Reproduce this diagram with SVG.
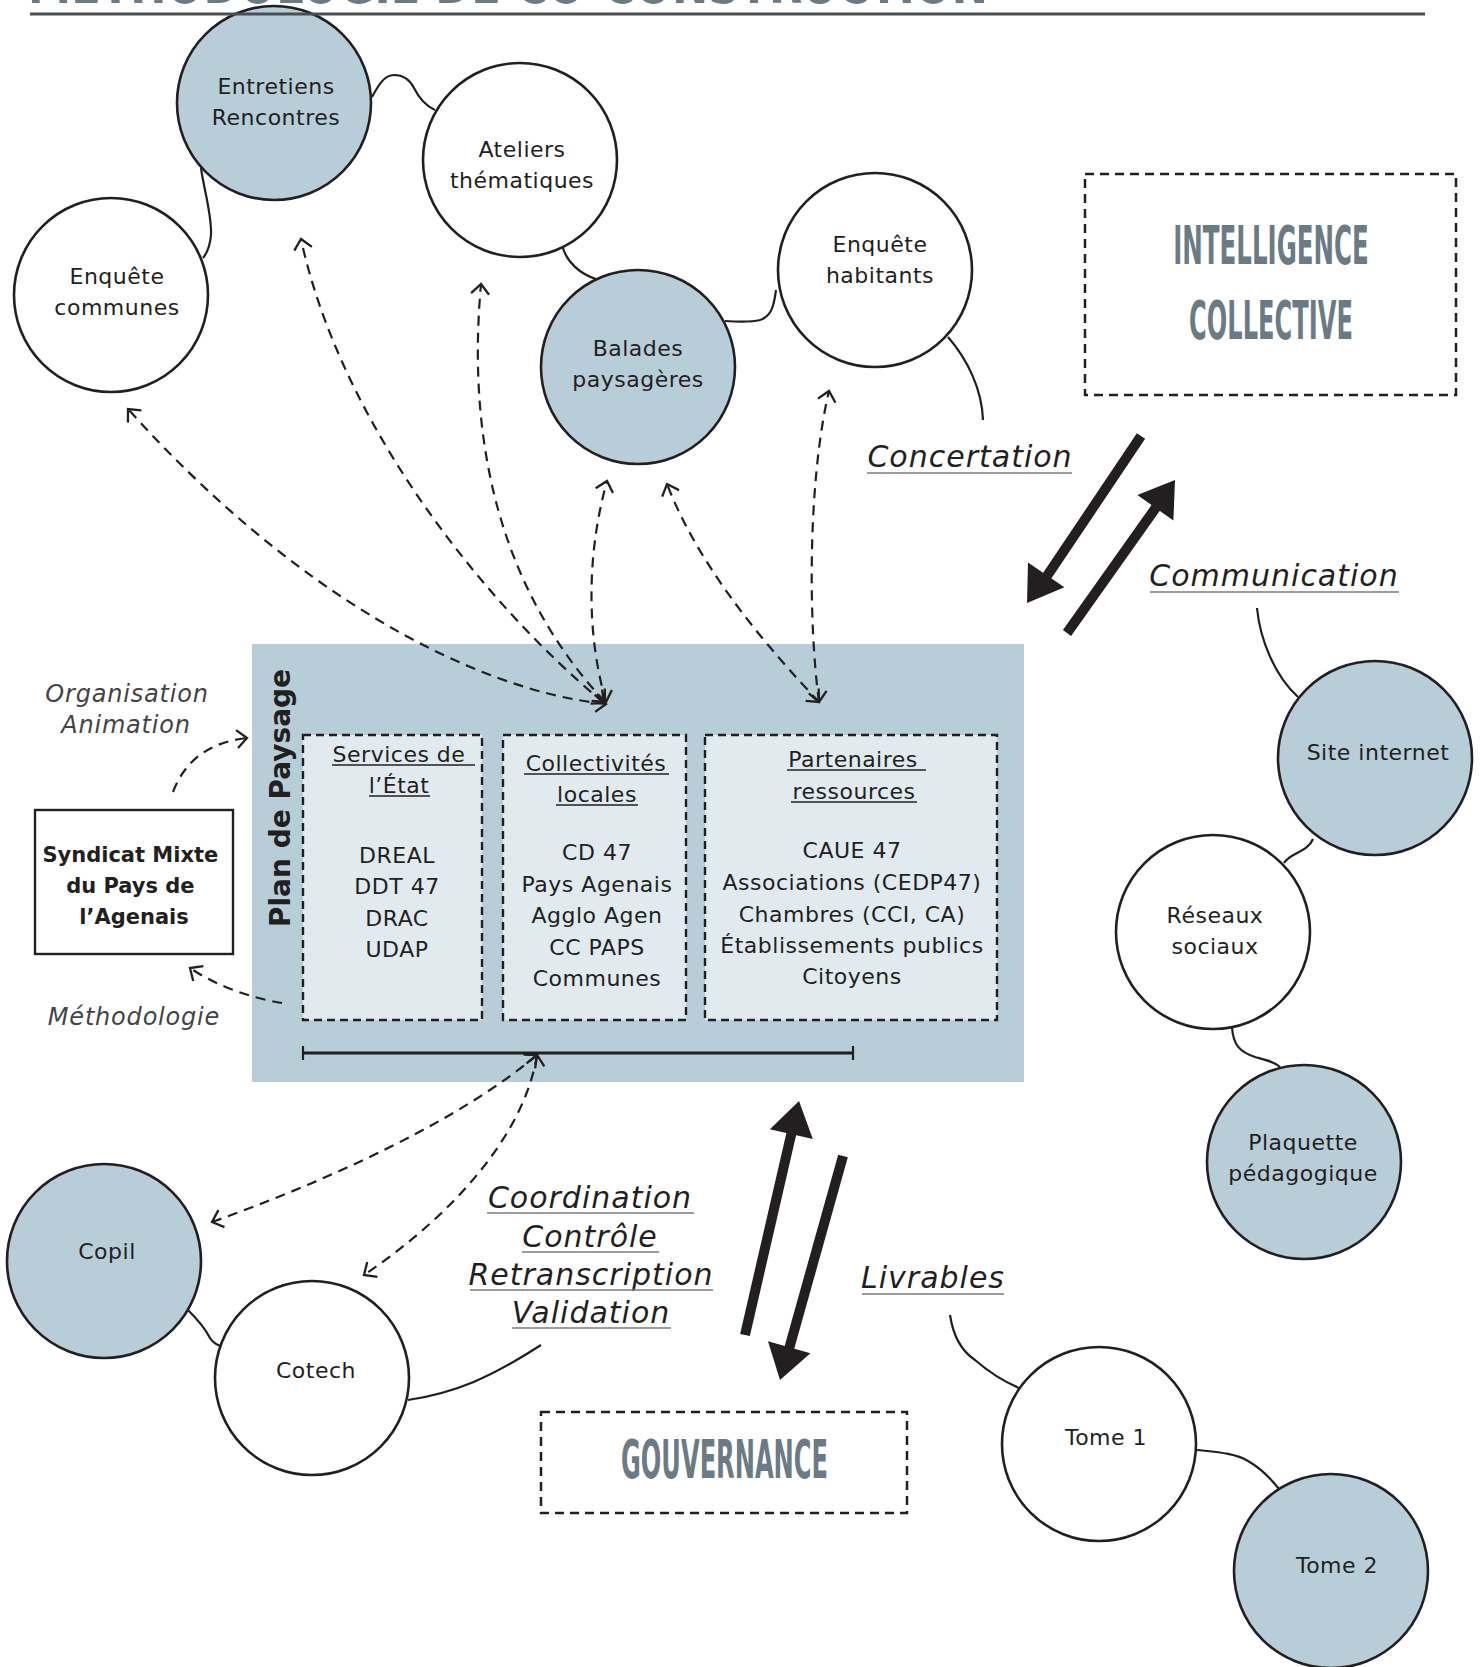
<svg xmlns="http://www.w3.org/2000/svg" width="1482" height="1667" viewBox="0 0 1482 1667">
<defs>
<style>
.c{stroke:#231f20;stroke-width:2.6}
.b{fill:#b7cdd8}
.w{fill:#ffffff}
.t{font-family:"DejaVu Sans","Liberation Sans",sans-serif;font-size:22px;fill:#231f20;text-anchor:middle;letter-spacing:0.5px}
.i{font-family:"DejaVu Sans","Liberation Sans",sans-serif;font-style:italic;font-size:30px;fill:#231f20;text-anchor:middle;letter-spacing:1px}
.g{font-family:"DejaVu Sans","Liberation Sans",sans-serif;font-style:italic;font-size:24px;fill:#444444;text-anchor:middle;letter-spacing:0.8px}
.u{stroke:#7d7d7d;stroke-width:1.6}
.hu{stroke:#231f20;stroke-width:1.3}
.big{font-family:"DejaVu Sans","Liberation Sans",sans-serif;font-weight:bold;font-size:54px;fill:#6b7b85;text-anchor:middle}
.dbox{fill:none;stroke:#231f20;stroke-width:2.5;stroke-dasharray:9 6}
.ibox{fill:#e1eaef;stroke:#231f20;stroke-width:2.4;stroke-dasharray:8 5}
.s{fill:none;stroke:#231f20;stroke-width:2.2}
.d{fill:none;stroke:#231f20;stroke-width:2.2;stroke-dasharray:10 7}
.ah{fill:#231f20}
.al{stroke:#231f20;stroke-width:10;fill:none}
</style>
<marker id="oa" viewBox="0 0 12 20" refX="10" refY="10" markerWidth="12" markerHeight="20" markerUnits="userSpaceOnUse" orient="auto-start-reverse" overflow="visible">
<path d="M0,1 L10,10 L0,19" fill="none" stroke="#231f20" stroke-width="2.3"/>
</marker>
</defs>
<rect x="0" y="0" width="1482" height="1667" fill="#ffffff"/>

<text class="big" transform="translate(508,3) scale(0.45,1)" x="0" y="0" textLength="2133" lengthAdjust="spacingAndGlyphs">MÉTHODOLOGIE DE CO-CONSTRUCTION</text>

<g id="plan-de-paysage">
<rect x="252" y="644" width="772" height="438" fill="#b7cdd8"/>
<text transform="translate(290,798) rotate(-90)" font-family="DejaVu Sans, Liberation Sans, sans-serif" font-weight="bold" font-size="28" fill="#231f20" text-anchor="middle">Plan de Paysage</text>
<line x1="303" y1="1053" x2="853" y2="1053" stroke="#231f20" stroke-width="2.8"/>
<line x1="303" y1="1046" x2="303" y2="1060" stroke="#231f20" stroke-width="2.2"/>
<line x1="853" y1="1046" x2="853" y2="1060" stroke="#231f20" stroke-width="2.2"/>
</g>

<g id="services-etat">
<rect class="ibox" x="303" y="735" width="179" height="285"/>
<text class="t" x="399" y="762">Services de</text>
<line class="hu" x1="332" y1="765" x2="475" y2="765"/>
<text class="t" x="399" y="793">l’État</text>
<line class="hu" x1="369" y1="796" x2="430" y2="796"/>
<text class="t" x="397" y="863">DREAL</text>
<text class="t" x="397" y="894">DDT 47</text>
<text class="t" x="397" y="926">DRAC</text>
<text class="t" x="397" y="957">UDAP</text>
</g>

<g id="collectivites-locales">
<rect class="ibox" x="503" y="735" width="183" height="285"/>
<text class="t" x="596" y="771">Collectivités</text>
<line class="hu" x1="524" y1="774" x2="669" y2="774"/>
<text class="t" x="597" y="802">locales</text>
<line class="hu" x1="556" y1="805" x2="638" y2="805"/>
<text class="t" x="597" y="860">CD 47</text>
<text class="t" x="597" y="892">Pays Agenais</text>
<text class="t" x="597" y="923">Agglo Agen</text>
<text class="t" x="597" y="955">CC PAPS</text>
<text class="t" x="597" y="986">Communes</text>
</g>

<g id="partenaires-ressources">
<rect class="ibox" x="705" y="735" width="292" height="285"/>
<text class="t" x="853" y="767">Partenaires</text>
<line class="hu" x1="787" y1="770" x2="926" y2="770"/>
<text class="t" x="854" y="799">ressources</text>
<line class="hu" x1="791" y1="802" x2="917" y2="802"/>
<text class="t" x="852" y="858">CAUE 47</text>
<text class="t" x="852" y="890">Associations (CEDP47)</text>
<text class="t" x="852" y="922">Chambres (CCI, CA)</text>
<text class="t" x="852" y="953">Établissements publics</text>
<text class="t" x="852" y="984">Citoyens</text>
</g>

<g id="syndicat-mixte">
<rect x="35" y="810" width="198" height="144" fill="#ffffff" stroke="#231f20" stroke-width="2.4"/>
<text font-family="DejaVu Sans, Liberation Sans, sans-serif" font-weight="bold" font-size="21" fill="#231f20" text-anchor="middle">
<tspan x="134" y="862">Syndicat Mixte</tspan>
<tspan x="134" y="893">du Pays de</tspan>
<tspan x="134" y="924">l’Agenais</tspan>
</text>
</g>

<g id="intelligence-collective">
<rect class="dbox" x="1085" y="174" width="371" height="221"/>
<text class="big" transform="translate(1271,264) scale(0.45,1)" x="0" y="0" textLength="435" lengthAdjust="spacingAndGlyphs">INTELLIGENCE</text>
<text class="big" transform="translate(1271,339) scale(0.45,1)" x="0" y="0" textLength="364" lengthAdjust="spacingAndGlyphs">COLLECTIVE</text>
</g>

<g id="gouvernance">
<rect class="dbox" x="541" y="1412" width="366" height="101"/>
<text class="big" transform="translate(724.5,1478) scale(0.45,1)" x="0" y="0" textLength="460" lengthAdjust="spacingAndGlyphs">GOUVERNANCE</text>
</g>

<g id="connectors">
<path class="s" d="M372,97 C378,86 384,75 394,75 C404,75 410,80 414,88 C420,100 426,106 435,110"/>
<path class="s" d="M201,168 C204,190 212,215 211,235 C210,246 207,253 203,258"/>
<path class="s" d="M563,248 C567,262 580,274 596,279"/>
<path class="s" d="M725,321 C740,322 752,322 760,320 C772,316 774,305 776,290"/>
<path class="s" d="M948,337 C968,360 982,390 983,420"/>
<path class="s" d="M1257,608 C1260,640 1275,676 1298,697"/>
<path class="s" d="M1313,839 C1308,852 1290,853 1284,863"/>
<path class="s" d="M1232,1027 C1233,1045 1240,1052 1255,1057 C1266,1060 1275,1062 1280,1067"/>
<path class="s" d="M188,1310 C198,1320 205,1328 210,1338 C213,1343 216,1344 220,1346"/>
<path class="s" d="M408,1400 C455,1393 490,1378 541,1345"/>
<path class="s" d="M950,1315 C953,1335 960,1350 975,1360 C990,1373 1005,1382 1019,1388"/>
<path class="s" d="M1197,1450 C1215,1452 1235,1453 1248,1461 C1262,1469 1272,1480 1279,1489"/>

<path class="d" d="M606,704 C470,690 290,590 128,409" marker-start="url(#oa)" marker-end="url(#oa)"/>
<path class="d" d="M604,703 C480,600 340,420 301,239" marker-start="url(#oa)" marker-end="url(#oa)"/>
<path class="d" d="M605,702 C510,600 465,460 481,284" marker-start="url(#oa)" marker-end="url(#oa)"/>
<path class="d" d="M606,702 C588,640 585,560 607,481" marker-start="url(#oa)" marker-end="url(#oa)"/>
<path class="d" d="M819,702 C770,650 700,570 667,484" marker-start="url(#oa)" marker-end="url(#oa)"/>
<path class="d" d="M819,702 C808,620 808,480 829,391" marker-start="url(#oa)" marker-end="url(#oa)"/>
<path class="d" d="M173,792 C185,760 210,742 247,738" marker-end="url(#oa)"/>
<path class="d" d="M282,1003 C250,998 215,985 190,968" marker-end="url(#oa)"/>
<path class="d" d="M537,1055 C460,1120 330,1180 212,1222" marker-start="url(#oa)" marker-end="url(#oa)"/>
<path class="d" d="M537,1055 C525,1130 460,1210 364,1275" marker-start="url(#oa)" marker-end="url(#oa)"/>

<line class="al" x1="1141" y1="436" x2="1047" y2="576"/>
<polygon class="ah" points="1027,603 1064.4,587.3 1028,562.5"/>
<line class="al" x1="1067" y1="633" x2="1157" y2="506"/>
<polygon class="ah" points="1175,480 1173.4,520.5 1137.4,495.1"/>
<line class="al" x1="745" y1="1335" x2="791.5" y2="1133"/>
<polygon class="ah" points="799,1101 812.8,1139.1 769.9,1129.2"/>
<line class="al" x1="843" y1="1156" x2="789" y2="1349"/>
<polygon class="ah" points="780,1380 810.4,1353.3 768,1341.3"/>
</g>

<g id="entretiens-rencontres">
<circle class="c b" cx="274" cy="103" r="97"/>
<text class="t" x="276" y="94">Entretiens</text>
<text class="t" x="276" y="125">Rencontres</text>
</g>
<g id="ateliers-thematiques">
<circle class="c w" cx="520" cy="160" r="97"/>
<text class="t" x="522" y="157">Ateliers</text>
<text class="t" x="522" y="188">thématiques</text>
</g>
<g id="enquete-communes">
<circle class="c w" cx="111" cy="295" r="97"/>
<text class="t" x="117" y="284">Enquête</text>
<text class="t" x="117" y="315">communes</text>
</g>
<g id="balades-paysageres">
<circle class="c b" cx="638" cy="367" r="97"/>
<text class="t" x="638" y="356">Balades</text>
<text class="t" x="638" y="387">paysagères</text>
</g>
<g id="enquete-habitants">
<circle class="c w" cx="875" cy="270" r="97"/>
<text class="t" x="880" y="252">Enquête</text>
<text class="t" x="880" y="283">habitants</text>
</g>
<g id="site-internet">
<circle class="c b" cx="1375" cy="758" r="97"/>
<text class="t" x="1378" y="760">Site internet</text>
</g>
<g id="reseaux-sociaux">
<circle class="c w" cx="1213" cy="932" r="97"/>
<text class="t" x="1215" y="923">Réseaux</text>
<text class="t" x="1215" y="954">sociaux</text>
</g>
<g id="plaquette-pedagogique">
<circle class="c b" cx="1304" cy="1162" r="97"/>
<text class="t" x="1303" y="1150">Plaquette</text>
<text class="t" x="1303" y="1181">pédagogique</text>
</g>
<g id="copil">
<circle class="c b" cx="104" cy="1261" r="97"/>
<text class="t" x="107" y="1259">Copil</text>
</g>
<g id="cotech">
<circle class="c w" cx="312" cy="1378" r="97"/>
<text class="t" x="316" y="1378">Cotech</text>
</g>
<g id="tome-1">
<circle class="c w" cx="1099" cy="1444" r="97"/>
<text class="t" x="1106" y="1445">Tome 1</text>
</g>
<g id="tome-2">
<circle class="c b" cx="1331" cy="1571" r="97"/>
<text class="t" x="1337" y="1573">Tome 2</text>
</g>

<g id="labels">
<text class="i" x="970" y="467">Concertation</text>
<line class="u" x1="867" y1="473" x2="1072" y2="473"/>
<text class="i" x="1274" y="586">Communication</text>
<line class="u" x1="1150" y1="592" x2="1399" y2="592"/>
<text class="i" x="590" y="1208">Coordination</text>
<line class="u" x1="487" y1="1213" x2="694" y2="1213"/>
<text class="i" x="590" y="1247">Contrôle</text>
<line class="u" x1="522" y1="1252" x2="659" y2="1252"/>
<text class="i" x="591" y="1285">Retranscription</text>
<line class="u" x1="470" y1="1290" x2="713" y2="1290"/>
<text class="i" x="591" y="1323">Validation</text>
<line class="u" x1="512" y1="1328" x2="671" y2="1328"/>
<text class="i" x="933" y="1288">Livrables</text>
<line class="u" x1="862" y1="1294" x2="1004" y2="1294"/>
<text class="g" x="127" y="702">Organisation</text>
<text class="g" x="126" y="733">Animation</text>
<text class="g" x="134" y="1025">Méthodologie</text>
</g>

<line x1="30" y1="14" x2="1425" y2="14" stroke="#4a4f54" stroke-width="3"/>
</svg>
